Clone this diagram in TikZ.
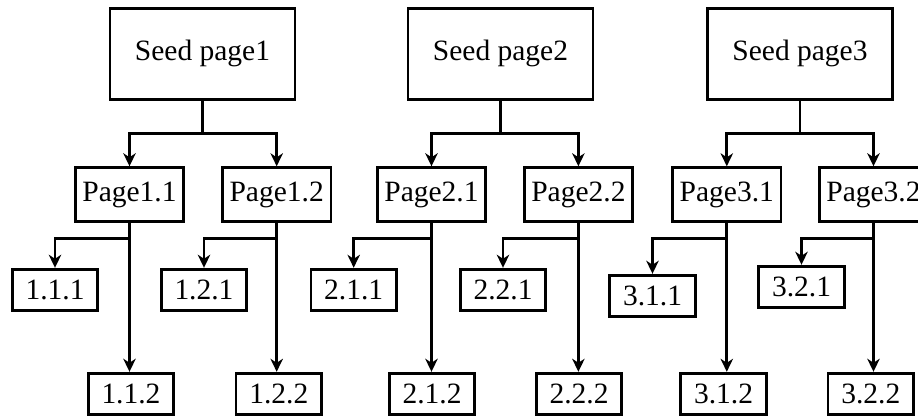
\documentclass[tikz,border=0pt]{standalone}
\usepackage{fontspec}
\setmainfont{Liberation Serif}
\usetikzlibrary{arrows.meta,positioning}

\tikzset{
  seedbox/.style={draw, line width=1.4pt, inner sep=0pt,
                  minimum width=92.5pt, minimum height=45.5pt},
  pagebox/.style={draw, line width=1.4pt, inner sep=0pt,
                  minimum width=54.2pt, minimum height=26.8pt},
  leafbox/.style={draw, line width=1.4pt, inner sep=0pt,
                  minimum width=42.8pt, minimum height=20.8pt},
}

\begin{document}
\begin{tikzpicture}[x=0.5pt, y=-0.5pt, line width=1.4pt,
    >={Stealth[length=6.5pt,width=6.2pt,inset=2pt]},
    font=\fontsize{14.75}{17}\selectfont]
  \useasboundingbox (0,0) rectangle (918,417);

  % seed pages
  \node (seedPage1)
        [seedbox] at (202.5,53.7)
        {Seed page1};
  \node (seedPage2)
        [seedbox] at (500.5,53.7)
        {Seed page2};
  \node (seedPage3)
        [seedbox] at (800,53.7)
        {Seed page3};

  % second level
  \node (page11)
        [pagebox] at (129.5,194.5)
        {Page1.1};
  \node (page12)
        [pagebox] at (276.7,194.5)
        {Page1.2};
  \node (page21)
        [pagebox] at (431.5,194.5)
        {Page2.1};
  \node (page22)
        [pagebox] at (578.4,194.5)
        {Page2.2};
  \node (page31)
        [pagebox] at (726.8,194.5)
        {Page3.1};
  \node (page32)
        [pagebox] at (873.5,194.5)
        {Page3.2};

  % third level
  \node (sub111)
        [leafbox] at (55,290)
        {1.1.1};
  \node (sub112)
        [leafbox] at (131,394)
        {1.1.2};
  \node (sub121)
        [leafbox] at (204,290)
        {1.2.1};
  \node (sub122)
        [leafbox] at (278.8,394)
        {1.2.2};
  \node (sub211)
        [leafbox] at (353.7,290)
        {2.1.1};
  \node (sub212)
        [leafbox] at (432,394)
        {2.1.2};
  \node (sub221)
        [leafbox] at (503,290)
        {2.2.1};
  \node (sub222)
        [leafbox] at (579,394)
        {2.2.2};
  \node (sub311)
        [leafbox] at (652.5,296)
        {3.1.1};
  \node (sub312)
        [leafbox] at (723.5,394)
        {3.1.2};
  \node (sub321)
        [leafbox] at (801.5,287)
        {3.2.1};
  \node (sub322)
        [leafbox] at (870.8,394)
        {3.2.2};

  \draw[->] (seedPage1.south) -- ++(0,33) -| (page11.north);
  \draw[->] (seedPage1.south) -- ++(0,33) -| (page12.north);
  \draw[->] (seedPage2.south) -- ++(0,33) -| (page21.north);
  \draw[->] (seedPage2.south) -- ++(0,33) -| (page22.north);
  \draw[->] (seedPage3.south) -- ++(0,33) -| (page31.north);
  \draw[->] (seedPage3.south) -- ++(0,33) -| (page32.north);

  \draw[->] (page11.south) -- ++(0,16) -| (sub111.north);
  \draw[->] (page11.south) -- (page11.south |- sub112.north);
  \draw[->] (page12.south) -- ++(0,16) -| (sub121.north);
  \draw[->] (page12.south) -- (page12.south |- sub122.north);
  \draw[->] (page21.south) -- ++(0,16) -| (sub211.north);
  \draw[->] (page21.south) -- (page21.south |- sub212.north);
  \draw[->] (page22.south) -- ++(0,16) -| (sub221.north);
  \draw[->] (page22.south) -- (page22.south |- sub222.north);
  \draw[->] (page31.south) -- ++(0,16) -| (sub311.north);
  \draw[->] (page31.south) -- (page31.south |- sub312.north);
  \draw[->] (page32.south) -- ++(0,16) -| (sub321.north);
  \draw[->] (page32.south) -- (page32.south |- sub322.north);
\end{tikzpicture}
\end{document}
